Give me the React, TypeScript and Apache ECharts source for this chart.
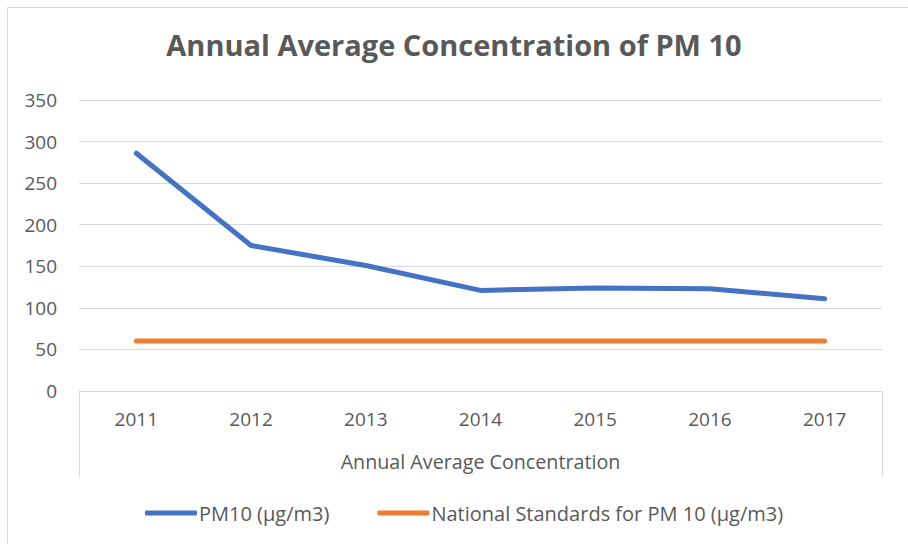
import React, { useEffect, useRef } from "react";
import * as echarts from "echarts";

const years = ["2011", "2012", "2013", "2014", "2015", "2016", "2017"];
const pm10 = [286, 175, 151, 121, 124, 123, 111];
const nationalStandard = [60, 60, 60, 60, 60, 60, 60];
const groupLabel = ["Annual Average Concentration"];
const seriesNames = ["PM10 (µg/m3)", "National Standards for PM 10 (µg/m3)"];

const FONT = "Open Sans";
const TEXT = "#595959";
const GRID = "#D9D9D9";

export default function App() {
  const ref = useRef<HTMLDivElement>(null);
  useEffect(() => {
    if (!ref.current) return;
    const chart = echarts.init(ref.current, null, { renderer: "svg" });
    chart.setOption({
      animation: false,
      backgroundColor: "#ffffff",
      textStyle: { fontFamily: FONT, color: TEXT },
      title: {
        text: "Annual Average Concentration of PM 10",
        left: "center",
        top: 25,
        textStyle: { fontFamily: FONT, fontSize: 29, fontWeight: "bold", color: TEXT },
      },
      graphic: [
        {
          type: "rect",
          shape: { x: 7.5, y: 7.5, width: 940, height: 560 },
          style: { fill: "none", stroke: "#D9D9D9", lineWidth: 1 },
          silent: true,
        },
      ],
      legend: {
        data: seriesNames,
        bottom: 16,
        left: 140,
        itemWidth: 52,
        itemHeight: 5,
        itemGap: 48,
        icon: "roundRect",
        textStyle: { fontFamily: FONT, fontSize: 20, color: TEXT, padding: [0, 0, 0, -3] },
      },
      grid: { left: 79, right: 26, top: 100, bottom: 153, containLabel: false },
      xAxis: [
        {
          type: "category",
          data: years,
          boundaryGap: true,
          position: "bottom",
          axisLine: { show: true, lineStyle: { color: GRID, width: 1 } },
          axisTick: { show: false },
          axisLabel: { fontFamily: FONT, fontSize: 19, color: TEXT, margin: 18 },
        },
        {
          type: "category",
          data: groupLabel,
          boundaryGap: true,
          position: "bottom",
          axisLine: { show: false },
          axisTick: { show: true, length: 86, lineStyle: { color: GRID, width: 1 } },
          axisLabel: { fontFamily: FONT, fontSize: 19.7, color: TEXT, margin: 60 },
        },
      ],
      yAxis: {
        type: "value",
        min: 0,
        max: 350,
        interval: 50,
        axisLine: { show: false },
        axisTick: { show: false },
        axisLabel: { fontFamily: FONT, fontSize: 19, color: TEXT, margin: 22 },
        splitLine: { lineStyle: { color: GRID, width: 1 } },
      },
      series: [
        {
          name: seriesNames[0],
          type: "line",
          data: pm10,
          xAxisIndex: 0,
          symbol: "none",
          color: "#4472C4",
          lineStyle: { width: 5, color: "#4472C4", cap: "round", join: "round" },
        },
        {
          name: seriesNames[1],
          type: "line",
          data: nationalStandard,
          xAxisIndex: 0,
          symbol: "none",
          color: "#ED7D31",
          lineStyle: { width: 5, color: "#ED7D31", cap: "round", join: "round" },
        },
      ],
    });
    return () => chart.dispose();
  }, []);
  return (
    <div
      ref={ref}
      style={{ position: "absolute", left: 0, top: 0, width: 908, height: 544 }}
    />
  );
}
